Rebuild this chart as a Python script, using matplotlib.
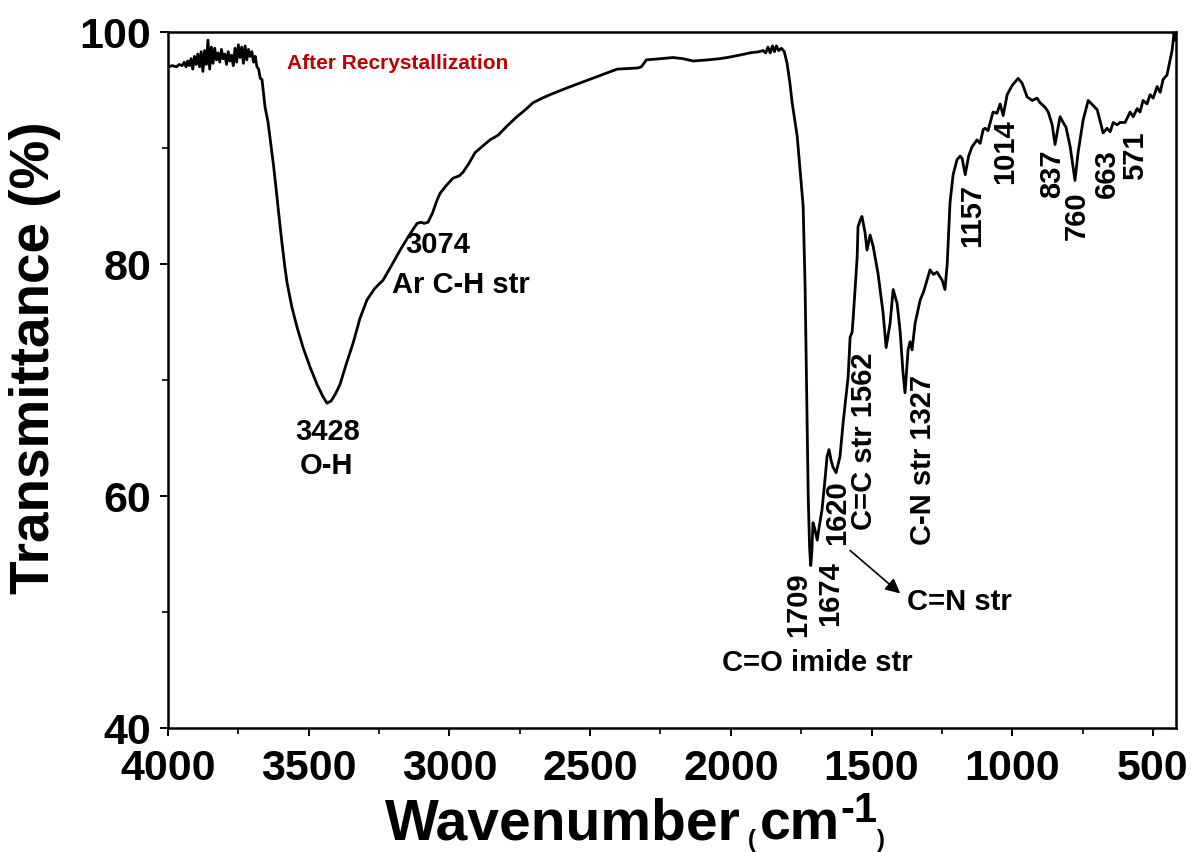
import matplotlib
matplotlib.use('Agg')
import matplotlib.pyplot as plt
from matplotlib.ticker import MultipleLocator

# ---------------- data ----------------
wavenumber = [
    4000, 3985, 3970, 3960, 3950, 3942, 3936, 3930, 3924, 3918, 3912, 3906, 3900, 3894,
    3888, 3882, 3876, 3870, 3864, 3858, 3852, 3846, 3840, 3834, 3828, 3822, 3816, 3810,
    3804, 3798, 3792, 3786, 3780, 3774, 3768, 3762, 3756, 3750, 3744, 3738, 3732, 3726,
    3720, 3714, 3708, 3702, 3696, 3690, 3684, 3678, 3672, 3666, 3660, 3655, 3645, 3635,
    3625, 3615, 3605, 3595, 3585, 3577, 3560, 3542, 3520, 3495, 3470, 3450, 3435, 3420,
    3405, 3389, 3365, 3342, 3318, 3293, 3265, 3236, 3205, 3175, 3145, 3115, 3100, 3090,
    3076, 3060, 3044, 3033, 3010, 2987, 2965, 2952, 2930, 2909, 2880, 2856, 2827, 2795,
    2760, 2730, 2703, 2670, 2642, 2580, 2525, 2460, 2404, 2330, 2318, 2300, 2250, 2205,
    2170, 2134, 2080, 2040, 2013, 1970, 1932, 1900, 1885, 1876, 1868, 1860, 1852, 1845,
    1838, 1830, 1820, 1810, 1800, 1790, 1782, 1764, 1754, 1743, 1736, 1730, 1725, 1720,
    1716, 1712, 1708, 1702, 1693, 1685, 1676, 1665, 1658, 1651, 1643, 1637, 1626, 1612,
    1601, 1583, 1576, 1569, 1565, 1551, 1548, 1540, 1534, 1523, 1516, 1505, 1494, 1477,
    1459, 1448, 1434, 1423, 1409, 1398, 1388, 1381, 1370, 1363, 1356, 1345, 1327, 1315,
    1303, 1292, 1280, 1267, 1249, 1239, 1231, 1221, 1210, 1196, 1185, 1178, 1167, 1155,
    1143, 1125, 1114, 1103, 1096, 1086, 1068, 1054, 1043, 1032, 1018, 1000, 979, 965,
    947, 929, 912, 901, 883, 872, 858, 848, 837, 830, 819, 809, 794, 777,
    766, 748, 730, 698, 677, 663, 652, 641, 627, 617, 599, 581, 570, 556,
    546, 535, 521, 510, 499, 485, 474, 464, 450, 439, 432, 425, 421, 418,
]
transmittance = [
    97.0, 97.1, 97.0, 97.2, 97.1, 97.4, 97.0, 97.5, 97.1, 97.7, 96.8, 97.9, 97.2, 98.1,
    97.0, 98.3, 96.6, 98.4, 97.2, 99.3, 96.8, 98.7, 97.3, 98.6, 97.6, 98.2, 97.4, 98.5,
    97.7, 98.1, 97.2, 98.3, 97.5, 98.0, 97.1, 98.6, 97.4, 98.9, 97.8, 98.7, 97.3, 98.8,
    97.6, 98.5, 97.9, 98.3, 97.4, 97.9, 97.0, 96.8, 96.0, 95.9, 94.6, 93.5, 92.3, 90.4,
    88.5, 86.3, 84.0, 81.8, 79.8, 78.4, 76.3, 74.6, 72.8, 71.1, 69.6, 68.6, 68.0, 68.2,
    68.8, 69.6, 71.5, 73.2, 75.3, 76.9, 77.9, 78.6, 79.9, 81.2, 82.4, 83.5, 83.6, 83.5,
    83.6, 84.4, 85.5, 86.1, 86.8, 87.4, 87.6, 87.9, 88.7, 89.6, 90.2, 90.7, 91.1, 91.9,
    92.7, 93.3, 93.9, 94.3, 94.6, 95.2, 95.7, 96.3, 96.8, 96.9, 97.0, 97.6, 97.7, 97.8,
    97.7, 97.5, 97.6, 97.7, 97.8, 98.0, 98.2, 98.3, 98.4, 98.2, 98.7, 98.2, 98.8, 98.3,
    98.8, 98.4, 98.6, 98.3, 97.3, 95.6, 93.9, 91.0, 88.1, 85.0, 78.0, 68.0, 60.0, 55.5,
    54.0, 55.2, 57.7, 57.2, 56.2, 57.5, 58.8, 61.5, 63.4, 64.0, 63.0, 62.5, 62.0, 63.4,
    66.3, 70.3, 73.7, 74.1, 75.4, 80.6, 83.2, 83.8, 84.1, 82.7, 81.2, 82.5, 81.5, 79.2,
    75.8, 72.8, 74.9, 77.8, 76.6, 74.1, 70.6, 68.9, 72.6, 73.3, 72.6, 74.9, 76.9, 77.6,
    78.6, 79.5, 79.1, 79.3, 78.6, 77.8, 80.0, 85.3, 87.7, 89.0, 89.3, 89.1, 87.7, 89.3,
    90.1, 90.7, 90.4, 91.6, 91.7, 91.5, 93.1, 93.0, 93.8, 92.8, 94.6, 95.4, 96.0, 95.6,
    94.4, 94.1, 94.3, 93.9, 93.5, 93.1, 92.0, 90.3, 91.8, 92.7, 92.2, 91.8, 90.1, 87.2,
    89.6, 92.4, 94.1, 93.3, 91.3, 91.7, 91.4, 92.2, 92.0, 92.2, 92.2, 93.1, 92.7, 93.4,
    93.1, 94.1, 93.8, 94.6, 94.3, 95.3, 94.8, 95.9, 96.3, 97.6, 98.4, 99.9, 99.3, 99.9,
]

x_ticks = [4000, 3500, 3000, 2500, 2000, 1500, 1000, 500]
y_ticks = [40, 60, 80, 100]

# ---------------- figure ----------------
W, H = 1194, 852
plt.rcParams['font.family'] = ['Liberation Sans', 'DejaVu Sans']
plt.rcParams['font.weight'] = 'bold'

fig = plt.figure(figsize=(W / 100, H / 100), dpi=100)
L, R, T, B = 168, 1176, 32, 728
ax = fig.add_axes([L / W, 1 - B / H, (R - L) / W, (B - T) / H])

ax.plot(wavenumber, transmittance, color='black', lw=2.0, solid_joinstyle='round')
ax.set_xlim(4000, 418)
ax.set_ylim(40, 100)
ax.set_xticks(x_ticks)
ax.set_yticks(y_ticks)
ax.xaxis.set_minor_locator(MultipleLocator(250))
ax.yaxis.set_minor_locator(MultipleLocator(10))
ax.tick_params(axis='both', which='major', direction='out', length=6, width=1.4,
               labelsize=31, top=False, right=False)
ax.tick_params(axis='both', which='minor', direction='out', length=4, width=1.2,
               top=False, right=False)
ax.tick_params(axis='x', which='major', pad=9)
ax.tick_params(axis='y', which='major', pad=6)
for lab in ax.get_xticklabels() + ax.get_yticklabels():
    lab.set_fontweight('bold')
for s in ax.spines.values():
    s.set_linewidth(1.8)


def fx(x):
    return x / W


def fy(y):
    return 1 - y / H


# axis titles (placed in pixel coordinates)
fig.text(fx(35), fy(358), 'Transmittance (%)', rotation=90, ha='center', va='center',
         fontsize=39.5, fontweight='bold')
fig.text(fx(385), fy(839), 'Wavenumber', ha='left', va='baseline', fontsize=41, fontweight='bold')
fig.text(fx(748), fy(847), '(', ha='left', va='baseline', fontsize=17, fontweight='bold')
fig.text(fx(760), fy(839), 'cm', ha='left', va='baseline', fontsize=40, fontweight='bold')
fig.text(fx(840), fy(822), '-1', ha='left', va='baseline', fontsize=30, fontweight='bold')
fig.text(fx(877), fy(847), ')', ha='left', va='baseline', fontsize=17, fontweight='bold')

# annotations
ann = dict(fontsize=21, fontweight='bold', color='black')
ax.text(3577, 97.3, 'After Recrystallization', ha='left', va='center',
        fontsize=15, fontweight='bold', color='#c00000')
ax.text(3431, 65.5, '3428', ha='center', va='center', **ann)
ax.text(3435, 62.6, 'O-H', ha='center', va='center', **ann)
ax.text(3158, 81.6, '3074', ha='left', va='center', **ann)
ax.text(3204, 78.2, 'Ar C-H str', ha='left', va='center', **ann)
ax.text(1694, 45.6, 'C=O imide str', ha='center', va='center', **ann)
ax.text(1374, 50.9, 'C=N str', ha='left', va='center', **ann)

rot_labels = [
    (1761, 50.6, '1709'),
    (1647, 51.6, '1674'),
    (1622, 58.6, '1620'),
    (1526, 64.7, 'C=C str 1562'),
    (1317, 63.1, 'C-N str 1327'),
    (1143, 84.2, '1157'),
    (1025, 89.7, '1014'),
    (858, 87.8, '837'),
    (769, 84.2, '760'),
    (663, 87.8, '663'),
    (563, 89.3, '571'),
]
for xw, yt, s in rot_labels:
    ax.text(xw, yt, s, rotation=90, ha='center', va='center', **ann)

ax.annotate('', xy=(1398, 51.6), xytext=(1576, 55.3),
            arrowprops=dict(arrowstyle='-|>', color='black', lw=1.2,
                            mutation_scale=22, shrinkA=0, shrinkB=0))

fig.savefig('out.png', dpi=100, facecolor='white')
